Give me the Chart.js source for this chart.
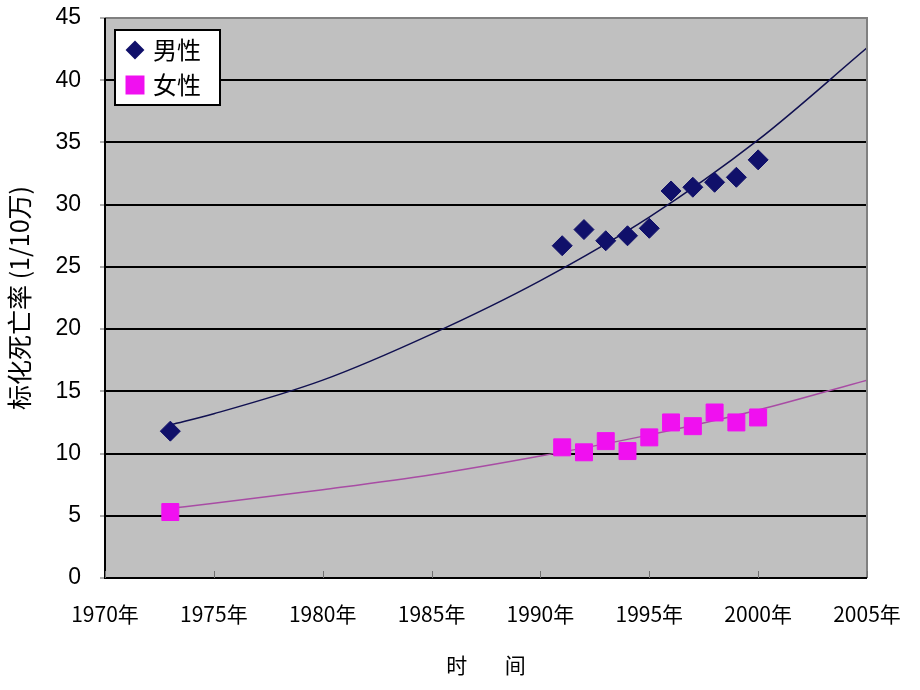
<!DOCTYPE html>
<html lang="zh">
<head>
  <meta charset="UTF-8">
  <title>标化死亡率</title>
  <script src="https://cdn.jsdelivr.net/npm/chart.js"></script>
  <style>
    body { margin: 0; background: white; }
    #wrap { width: 920px; height: 690px; }
  </style>
</head>
<body>
  <div id="wrap"><canvas id="chart" width="920" height="690"></canvas></div>

  <script type="text/javascript">
    // observed points
    const years = [1973, 1991, 1992, 1993, 1994, 1995, 1996, 1997, 1998, 1999, 2000];
    const male = [11.8, 26.7, 28.0, 27.1, 27.5, 28.1, 31.1, 31.4, 31.8, 32.2, 33.6];
    const female = [5.3, 10.5, 10.1, 11.0, 10.2, 11.3, 12.5, 12.2, 13.3, 12.5, 12.9];

    // trend curves
    const trendYears = [1973, 1975, 1980, 1985, 1990, 1995, 2000, 2005];
    const maleTrend = [12.3, 13.2, 15.9, 19.6, 23.9, 29.0, 35.2, 42.6];
    const femaleTrend = [5.6, 6.0, 7.1, 8.3, 9.8, 11.5, 13.5, 15.9];

    const xTicks = [1970, 1975, 1980, 1985, 1990, 1995, 2000, 2005];
    const yTicks = [0, 5, 10, 15, 20, 25, 30, 35, 40, 45];

    const legendItems = ['男性', '女性'];

    const MALE_COLOR = '#10106a';
    const FEMALE_COLOR = '#f010f0';

    function pts(xs, ys) {
      return xs.map((x, i) => ({ x: x, y: ys[i] }));
    }

    const fontFamily = '"Liberation Sans", "Noto Sans CJK SC", sans-serif';
    const narrowFamily = '"Liberation Sans Narrow", "Noto Sans CJK SC", sans-serif';

    const plotDecor = {
      id: 'plotDecor',
      beforeDraw(chart) {
        const { ctx, chartArea: a } = chart;
        ctx.save();
        ctx.fillStyle = '#c0c0c0';
        ctx.fillRect(a.left, a.top, a.right - a.left, a.bottom - a.top);
        ctx.restore();
      },
      afterDatasetsDraw(chart) {
        const { ctx, chartArea: a } = chart;
        const xs = chart.scales.x;
        ctx.save();
        // frame: gray top/right, black left/bottom
        ctx.strokeStyle = '#808080';
        ctx.lineWidth = 2;
        ctx.beginPath();
        ctx.moveTo(a.left, a.top);
        ctx.lineTo(a.right, a.top);
        ctx.lineTo(a.right, a.bottom);
        ctx.stroke();
        ctx.strokeStyle = '#000';
        ctx.beginPath();
        ctx.moveTo(a.left, a.top);
        ctx.lineTo(a.left, a.bottom);
        ctx.lineTo(a.right, a.bottom);
        ctx.stroke();
        // x tick marks pointing inside
        ctx.strokeStyle = '#707070';
        ctx.lineWidth = 1;
        xTicks.forEach(v => {
          const px = Math.round(xs.getPixelForValue(v)) + 0.5;
          ctx.beginPath();
          ctx.moveTo(px, a.bottom);
          ctx.lineTo(px, a.bottom - 7);
          ctx.stroke();
        });
        // legend box
        const lx = a.left + 10, ly = a.top + 12, lw = 105, lh = 75;
        ctx.fillStyle = '#fff';
        ctx.fillRect(lx, ly, lw, lh);
        ctx.strokeStyle = '#000';
        ctx.lineWidth = 2;
        ctx.strokeRect(lx, ly, lw, lh);
        const styles = [
          { pointStyle: 'rectRot', radius: 8, color: MALE_COLOR },
          { pointStyle: 'rect', radius: 12, color: FEMALE_COLOR }
        ];
        ctx.font = '24px "Noto Sans CJK SC", sans-serif';
        ctx.textBaseline = 'middle';
        legendItems.forEach((txt, i) => {
          const cy = ly + 20 + i * 35;
          const s = styles[i];
          ctx.fillStyle = s.color;
          ctx.strokeStyle = s.color;
          Chart.helpers.drawPoint(ctx, { pointStyle: s.pointStyle, radius: s.radius, borderWidth: 1 }, lx + 20, cy);
          ctx.fill();
          ctx.fillStyle = '#000';
          ctx.fillText(txt, lx + 38, cy);
        });
        ctx.restore();
      }
    };

    new Chart(document.getElementById('chart'), {
      type: 'scatter',
      data: {
        datasets: [
          {
            label: '男性趋势',
            data: pts(trendYears, maleTrend),
            showLine: true,
            borderColor: '#101050',
            borderWidth: 1.5,
            pointRadius: 0,
            cubicInterpolationMode: 'monotone',
            order: 3
          },
          {
            label: '女性趋势',
            data: pts(trendYears, femaleTrend),
            showLine: true,
            borderColor: '#a84ca4',
            borderWidth: 1.5,
            pointRadius: 0,
            cubicInterpolationMode: 'monotone',
            order: 3
          },
          {
            label: '男性',
            data: pts(years, male),
            pointStyle: 'rectRot',
            pointRadius: 10,
            backgroundColor: MALE_COLOR,
            borderColor: MALE_COLOR,
            borderWidth: 1,
            order: 1
          },
          {
            label: '女性',
            data: pts(years, female),
            pointStyle: 'rect',
            pointRadius: 12,
            backgroundColor: FEMALE_COLOR,
            borderColor: FEMALE_COLOR,
            borderWidth: 1,
            order: 1
          }
        ]
      },
      options: {
        responsive: false,
        animation: false,
        layout: { padding: { top: 18, right: 53, left: 0, bottom: 0 } },
        plugins: {
          legend: { display: false },
          tooltip: { enabled: false }
        },
        scales: {
          x: {
            type: 'linear',
            min: 1970,
            max: 2005,
            afterBuildTicks: s => { s.ticks = xTicks.map(v => ({ value: v })); },
            afterFit: s => { s.height = 112; s.paddingLeft = 0; s.paddingRight = 0; },
            border: { display: false },
            grid: { display: false, drawTicks: false },
            ticks: {
              color: '#000',
              padding: 23,
              maxRotation: 0,
              autoSkip: false,
              font: { size: 21, family: narrowFamily },
              callback: v => v + '年'
            },
            title: {
              display: true,
              text: '时        间',
              color: '#000',
              padding: { top: 6, bottom: 12 },
              font: { size: 21, family: '"Noto Sans CJK SC", sans-serif' }
            }
          },
          y: {
            min: 0,
            max: 45,
            afterBuildTicks: s => { s.ticks = yTicks.map(v => ({ value: v })); },
            afterFit: s => { s.width = 105; s.paddingTop = 0; s.paddingBottom = 0; },
            border: { display: false },
            grid: {
              color: '#000',
              lineWidth: 2,
              tickColor: '#606060',
              tickLength: 5,
              tickWidth: 1
            },
            ticks: {
              color: '#000',
              padding: 19,
              font: { size: 23, family: fontFamily }
            },
            title: {
              display: true,
              text: '标化死亡率 (1/10万)',
              color: '#000',
              padding: { bottom: 4 },
              font: { size: 25, family: '"Noto Sans CJK SC", sans-serif' }
            }
          }
        }
      },
      plugins: [plotDecor]
    });
  </script>
</body>
</html>
